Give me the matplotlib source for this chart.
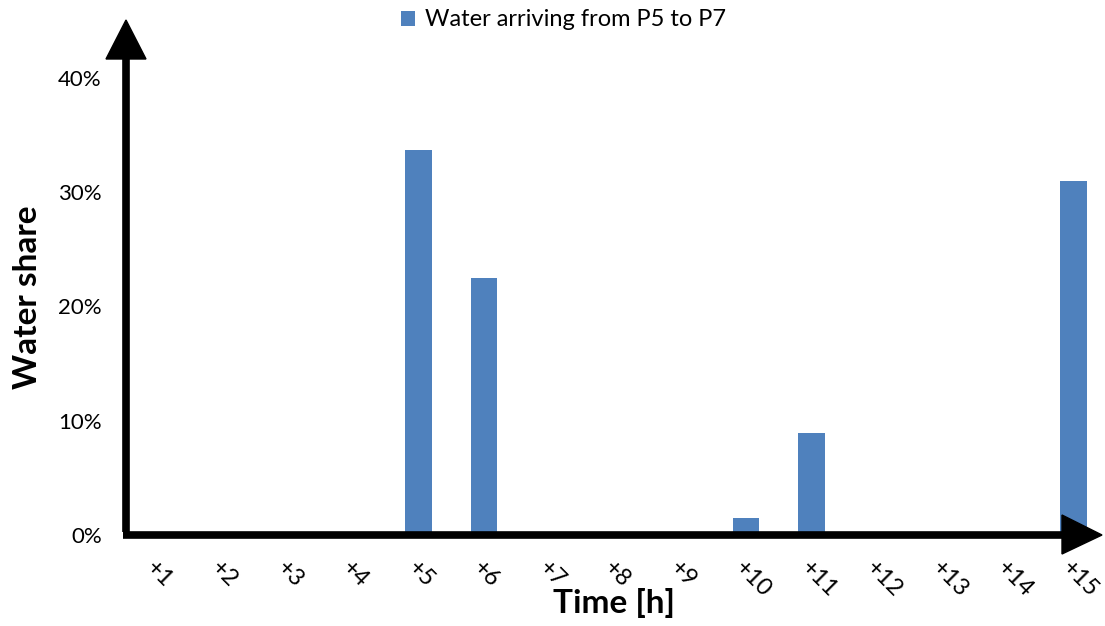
import matplotlib.pyplot as plt
from matplotlib.patches import Polygon
from matplotlib.lines import Line2D
from matplotlib.ticker import PercentFormatter

hours = ['+1', '+2', '+3', '+4', '+5', '+6', '+7', '+8', '+9', '+10',
         '+11', '+12', '+13', '+14', '+15']
share = [0.0, 0.0, 0.0, 0.0, 0.337, 0.225, 0.0, 0.0, 0.0, 0.0146,
         0.089, 0.001, 0.0, 0.0, 0.310]
series_name = 'Water arriving from P5 to P7'

plt.rcParams['font.family'] = ['Lato', 'DejaVu Sans']

W, H = 1105, 626
fig = plt.figure(figsize=(W / 100, H / 100), dpi=100)

# plot area in pixels (image coords)
x0, x1 = 124, 1106
y_top, y_bot = 78, 535
ax = fig.add_axes([x0 / W, (H - y_bot) / H, (x1 - x0) / W, (y_bot - y_top) / H])

pos = list(range(1, len(hours) + 1))
ax.bar(pos, share, width=0.41, color='#4F81BD', label=series_name, zorder=2)

ax.set_xlim(0.5, len(hours) + 0.5)
ax.set_ylim(0, 0.4)
ax.set_yticks([0, 0.1, 0.2, 0.3, 0.4])
ax.yaxis.set_major_formatter(PercentFormatter(1.0, decimals=0))
ax.set_xticks(pos)
ax.set_xticklabels(hours, rotation=-45, ha='left', va='top', rotation_mode='anchor')
ax.tick_params(axis='x', length=0, pad=16, labelsize=17)
ax.tick_params(axis='y', length=0, pad=16, labelsize=16)
for s in ax.spines.values():
    s.set_visible(False)

ax.set_xlabel('Time [h]', fontsize=24, fontweight='bold')
ax.xaxis.set_label_coords((614 - x0) / (x1 - x0), -(588 - y_bot) / (y_bot - y_top))
ax.set_ylabel('Water share', fontsize=24, fontweight='bold')
ax.yaxis.set_label_coords(-(124 - 42) / (x1 - x0), 0.52)

ax.legend(loc='upper center', bbox_to_anchor=(0.51, 1.0), bbox_transform=fig.transFigure,
          frameon=False, fontsize=17, handlelength=0.6, handleheight=0.6,
          handletextpad=0.4, borderaxespad=0.0)

# axis arrows, drawn in pixel coords
def p(x, y):
    return (x, H - y)

ax_x, ax_y = 126, 535
fig.add_artist(Line2D([ax_x, ax_x], [H - 532, H - 55], color='black', lw=5.5,
                      transform=None, solid_capstyle='butt'))
fig.add_artist(Polygon([p(106, 59), p(146, 59), p(126, 20)], closed=True,
                       color='black', transform=None))
fig.add_artist(Line2D([ax_x - 3, 1065], [H - ax_y, H - ax_y], color='black', lw=5.5,
                      transform=None, solid_capstyle='butt'))
fig.add_artist(Polygon([p(1062, 515), p(1062, 554), p(1102, 535)], closed=True,
                       color='black', transform=None))

fig.savefig('out.png', dpi=100)
